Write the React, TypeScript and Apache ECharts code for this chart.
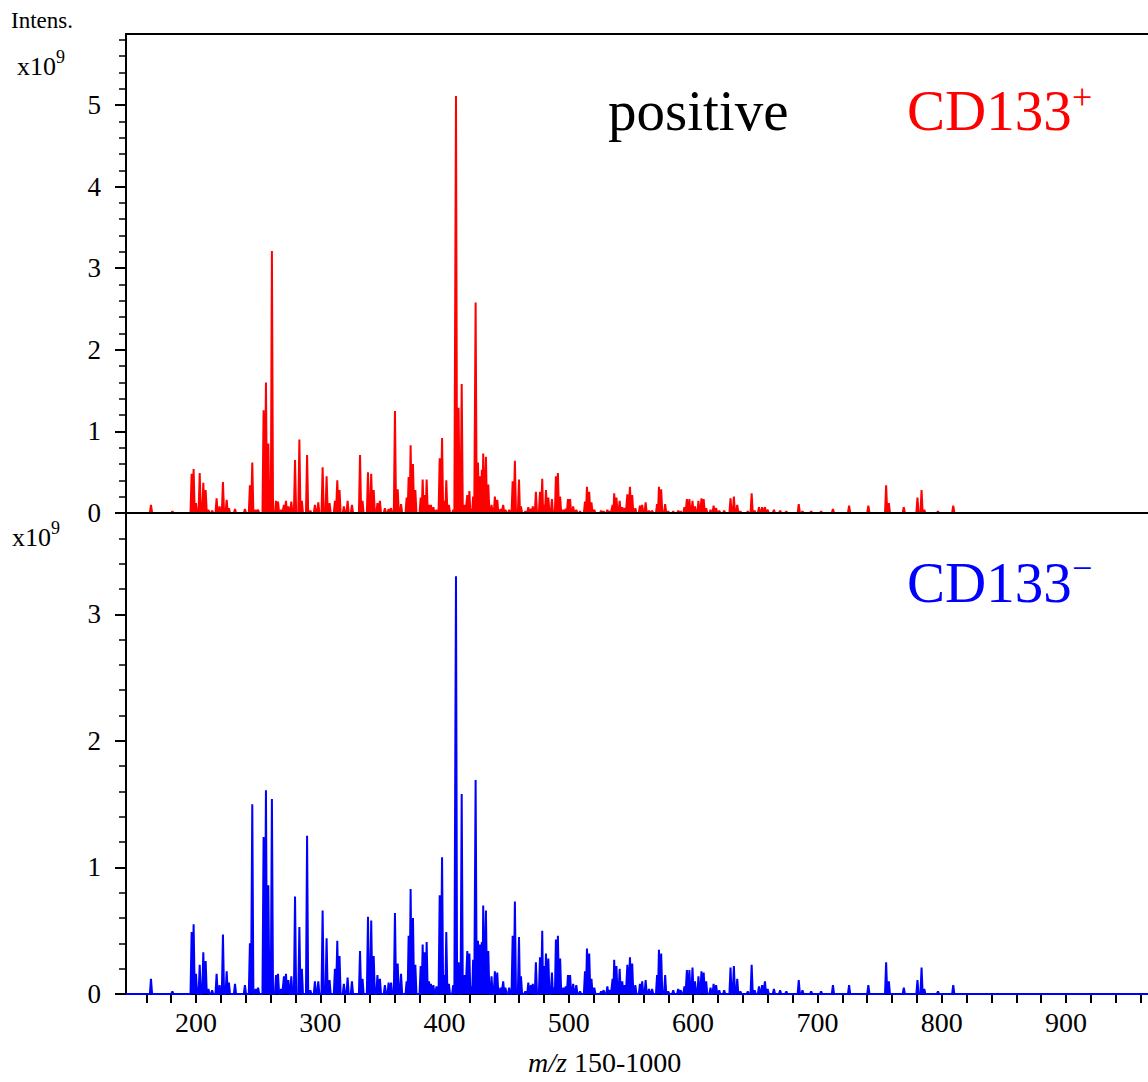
import React, { useEffect, useRef } from "react";
import * as echarts from "echarts";

const FONT = '"Liberation Serif", "Times New Roman", "DejaVu Serif", serif';

// m/z axis range shown
const X_MIN = 143.7;
const X_MAX = 966;
const TOP_Y_MAX = 5.87;
const BOTTOM_Y_MAX = 3.8;

// peak m/z positions (shared by both spectra)
const peakMz = [
  163.8, 181, 196.5, 198.1, 200, 203, 205.9, 207.8, 210, 213,
  216.6, 219, 221.7, 224.7, 226.5, 231.4, 239.4, 243.4, 245.3, 248,
  250, 254.4, 256.3, 258.2, 261.1, 264.4, 266, 268.5, 270.8, 272.4,
  274.3, 276.7, 279.7, 283.2, 285.2, 289.4, 292, 295.7, 298.4, 301.9,
  305.1, 307.5, 311.8, 313.7, 315.5, 319, 322, 325.5, 332, 334,
  338.4, 341, 343, 346, 348, 352, 355, 357, 360.1, 362.3,
  365, 369.5, 371.1, 372.7, 374.6, 376.5, 380.8, 382.4, 384, 385.6,
  387.5, 389, 391, 393.5, 396.1, 398, 399.8, 401.4, 403.5, 407,
  409.2, 411.3, 413.8, 416, 418.3, 420, 421.5, 423, 425, 426.9,
  428.5, 430, 431.1, 433.3, 435.2, 437.8, 440.5, 442.4, 445, 447.2,
  449, 452, 454.8, 456.6, 459.9, 461.5, 465, 467.4, 469.5, 471,
  473.5, 476.8, 478.6, 480, 481.6, 483.5, 486.4, 488, 489.6, 491.2,
  493, 495.5, 497.5, 499.3, 501, 503.5, 506, 509, 513, 514.6,
  516.4, 518.2, 520.5, 526, 528, 531, 533, 535.2, 536.5, 538.3,
  540.9, 543, 545, 547.1, 549.2, 551, 553.5, 557.2, 559, 561.8,
  564.5, 567, 571, 572.5, 574.3, 577.5, 580, 584, 588, 590,
  593, 595, 597, 599.5, 601.5, 604.3, 606.7, 608.5, 610.5, 614,
  616.5, 618.5, 621, 625, 630.1, 632.8, 635.5, 638, 644, 647.1,
  649.5, 653, 655.5, 657.8, 660, 665, 670, 675, 685, 688,
  695, 703, 712.5, 725.5, 741, 755.3, 757.5, 769.5, 780.5, 783.8,
  786, 797, 809.3,
];

// CD133+ intensities (x10^9)
const posIntensity = [
  0.10, 0.02, 0.48, 0.54, 0.12, 0.49, 0.37, 0.28, 0.04, 0.03,
  0.18, 0.08, 0.38, 0.16, 0.06, 0.05, 0.05, 0.34, 0.62, 0.04,
  0.04, 1.26, 1.60, 0.85, 3.21, 0.15, 0.14, 0.04, 0.10, 0.15,
  0.08, 0.14, 0.65, 0.90, 0.15, 0.71, 0.03, 0.10, 0.13, 0.56,
  0.45, 0.12, 0.15, 0.40, 0.28, 0.08, 0.15, 0.10, 0.71, 0.15,
  0.50, 0.48, 0.28, 0.12, 0.15, 0.06, 0.05, 0.06, 1.25, 0.29,
  0.11, 0.19, 0.44, 0.83, 0.60, 0.28, 0.19, 0.41, 0.22, 0.41,
  0.10, 0.10, 0.07, 0.04, 0.67, 0.92, 0.15, 0.40, 0.10, 0.04,
  5.11, 1.29, 1.58, 0.10, 0.22, 0.27, 0.05, 0.20, 2.58, 0.62,
  0.45, 0.53, 0.73, 0.69, 0.35, 0.10, 0.20, 0.16, 0.05, 0.10,
  0.04, 0.04, 0.39, 0.64, 0.41, 0.08, 0.02, 0.07, 0.05, 0.08,
  0.26, 0.26, 0.42, 0.10, 0.28, 0.19, 0.17, 0.03, 0.45, 0.49,
  0.20, 0.04, 0.05, 0.17, 0.17, 0.08, 0.04, 0.02, 0.14, 0.32,
  0.26, 0.13, 0.04, 0.03, 0.02, 0.04, 0.02, 0.10, 0.24, 0.19,
  0.15, 0.07, 0.06, 0.23, 0.32, 0.22, 0.06, 0.09, 0.10, 0.13,
  0.03, 0.03, 0.11, 0.32, 0.29, 0.11, 0.02, 0.02, 0.03, 0.02,
  0.07, 0.17, 0.17, 0.15, 0.08, 0.15, 0.18, 0.17, 0.06, 0.04,
  0.09, 0.06, 0.03, 0.03, 0.18, 0.20, 0.10, 0.02, 0.02, 0.24,
  0.03, 0.07, 0.07, 0.07, 0.04, 0.04, 0.03, 0.02, 0.11, 0.02,
  0.02, 0.02, 0.05, 0.09, 0.09, 0.34, 0.12, 0.07, 0.19, 0.28,
  0.04, 0.02, 0.09,
];

// CD133- intensities (x10^9)
const negIntensity = [
  0.12, 0.02, 0.49, 0.55, 0.16, 0.23, 0.33, 0.26, 0.04, 0.03,
  0.16, 0.07, 0.47, 0.18, 0.09, 0.08, 0.07, 0.40, 1.50, 0.04,
  0.05, 1.24, 1.61, 0.86, 1.54, 0.15, 0.16, 0.04, 0.14, 0.16,
  0.11, 0.14, 0.77, 0.53, 0.20, 1.25, 0.03, 0.10, 0.10, 0.66,
  0.44, 0.11, 0.20, 0.42, 0.30, 0.08, 0.13, 0.10, 0.34, 0.12,
  0.61, 0.58, 0.30, 0.15, 0.12, 0.07, 0.09, 0.09, 0.64, 0.24,
  0.16, 0.10, 0.46, 0.83, 0.60, 0.23, 0.22, 0.39, 0.33, 0.41,
  0.10, 0.08, 0.07, 0.06, 0.78, 1.08, 0.15, 0.49, 0.08, 0.07,
  3.30, 0.25, 1.58, 0.15, 0.34, 0.32, 0.06, 0.27, 1.69, 0.42,
  0.39, 0.41, 0.70, 0.66, 0.34, 0.14, 0.18, 0.17, 0.05, 0.10,
  0.05, 0.05, 0.46, 0.73, 0.45, 0.14, 0.02, 0.09, 0.07, 0.08,
  0.25, 0.29, 0.50, 0.22, 0.32, 0.28, 0.17, 0.05, 0.43, 0.46,
  0.28, 0.05, 0.06, 0.15, 0.15, 0.08, 0.07, 0.02, 0.18, 0.36,
  0.32, 0.12, 0.05, 0.02, 0.03, 0.06, 0.03, 0.12, 0.27, 0.22,
  0.20, 0.10, 0.07, 0.23, 0.29, 0.24, 0.07, 0.08, 0.10, 0.11,
  0.04, 0.04, 0.15, 0.35, 0.32, 0.15, 0.02, 0.03, 0.04, 0.03,
  0.06, 0.19, 0.19, 0.21, 0.10, 0.14, 0.18, 0.17, 0.10, 0.05,
  0.08, 0.07, 0.03, 0.03, 0.21, 0.22, 0.12, 0.02, 0.02, 0.23,
  0.03, 0.06, 0.07, 0.10, 0.04, 0.04, 0.03, 0.02, 0.11, 0.03,
  0.02, 0.02, 0.07, 0.07, 0.07, 0.25, 0.10, 0.05, 0.11, 0.21,
  0.04, 0.02, 0.07,
];

// tick labels
const xLabelValues = [200, 300, 400, 500, 600, 700, 800, 900];
const topYLabelValues = [0, 1, 2, 3, 4, 5];
const bottomYLabelValues = [0, 1, 2, 3];

function steps(from: number, to: number, step: number): number[] {
  const out: number[] = [];
  for (let v = from; v <= to + 1e-9; v += step) out.push(Math.round(v * 100) / 100);
  return out;
}
const xTickValues = steps(160, 960, 20);
const topYMinorValues = steps(0, 5.8, 0.2);
const bottomYMinorValues = steps(0, 3.6, 0.2);

function buildProfile(mz: number[], inten: number[]): number[][] {
  const pts: number[][] = [[X_MIN, 0]];
  for (let i = 0; i < mz.length; i++) {
    const m = mz[i];
    const gl = i > 0 ? (m - mz[i - 1]) / 2 : 1;
    const gr = i < mz.length - 1 ? (mz[i + 1] - m) / 2 : 1;
    const hl = Math.min(0.9, gl);
    const hr = Math.min(0.9, gr);
    pts.push([m - hl, 0], [m, inten[i]], [m + hr, 0]);
  }
  pts.push([X_MAX, 0]);
  return pts;
}

const black = "#000";

function yAxisPair(gridIndex: number, max: number, labels: number[], minor: number[]) {
  return [
    {
      gridIndex,
      type: "value",
      min: 0,
      max,
      position: "left",
      axisLine: { show: true, lineStyle: { color: black, width: 2 } },
      axisTick: { show: true, customValues: labels, length: 11, lineStyle: { color: black, width: 2 } },
      axisLabel: { show: true, customValues: labels, margin: 25, fontSize: 27, fontFamily: FONT, color: black },
      splitLine: { show: false },
    },
    {
      gridIndex,
      type: "value",
      min: 0,
      max,
      position: "left",
      axisLine: { show: false },
      axisTick: { show: true, customValues: minor, length: 7, lineStyle: { color: black, width: 1.5 } },
      axisLabel: { show: false },
      splitLine: { show: false },
    },
  ];
}

export default function App() {
  const ref = useRef<HTMLDivElement>(null);
  useEffect(() => {
    if (!ref.current) return;
    const chart = echarts.init(ref.current, null, { renderer: "svg" });
    const txt = (text: string, x: number, y: number, size: number, color = black, extra: any = {}) => ({
      type: "text",
      x,
      y,
      silent: true,
      style: { text, fill: color, fontSize: size, fontFamily: FONT, textVerticalAlign: "middle", ...extra },
    });
    chart.setOption({
      animation: false,
      backgroundColor: "#fff",
      grid: [
        { left: 126, top: 34, right: 0, height: 479 },
        { left: 126, top: 513, right: 0, height: 481 },
      ],
      xAxis: [
        {
          gridIndex: 0, type: "value", min: X_MIN, max: X_MAX, position: "bottom", z: 5,
          axisLine: { show: true, onZero: false, lineStyle: { color: black, width: 2 } },
          axisTick: { show: false }, axisLabel: { show: false }, splitLine: { show: false },
        },
        {
          gridIndex: 0, type: "value", min: X_MIN, max: X_MAX, position: "top",
          axisLine: { show: true, onZero: false, lineStyle: { color: black, width: 2 } },
          axisTick: { show: false }, axisLabel: { show: false }, splitLine: { show: false },
        },
        {
          gridIndex: 1, type: "value", min: X_MIN, max: X_MAX, position: "bottom",
          axisLine: { show: true, onZero: false, lineStyle: { color: black, width: 2 } },
          axisTick: { show: true, customValues: xTickValues, length: 9, lineStyle: { color: black, width: 2 } },
          axisLabel: { show: true, customValues: xLabelValues, margin: 14, fontSize: 28, fontFamily: FONT, color: black },
          splitLine: { show: false },
        },
      ],
      yAxis: [
        ...yAxisPair(0, TOP_Y_MAX, topYLabelValues, topYMinorValues),
        ...yAxisPair(1, BOTTOM_Y_MAX, bottomYLabelValues, bottomYMinorValues),
      ],
      series: [
        {
          type: "line", xAxisIndex: 0, yAxisIndex: 0, data: buildProfile(peakMz, posIntensity),
          showSymbol: false, silent: true, z: 2,
          lineStyle: { color: "#ff0000", width: 2 },
          areaStyle: { color: "#ff0000", opacity: 1 },
        },
        {
          type: "line", xAxisIndex: 2, yAxisIndex: 2, data: buildProfile(peakMz, negIntensity),
          showSymbol: false, silent: true, z: 2,
          lineStyle: { color: "#0000ff", width: 2 },
          areaStyle: { color: "#0000ff", opacity: 1 },
        },
      ],
      graphic: [
        txt("Intens.", 11, 20, 23),
        txt("x10", 17, 66, 26),
        txt("9", 56, 57, 18),
        txt("x10", 12, 537, 26),
        txt("9", 51, 528, 18),
        txt("positive", 608, 110, 57),
        txt("CD133", 907, 110, 57, "#ff0000"),
        txt("+", 1072, 97, 36, "#ff0000"),
        txt("CD133", 907, 582, 57, "#0000ff"),
        txt("\u2212", 1072, 568, 36, "#0000ff"),
        {
          type: "text", x: 528, y: 1062, silent: true,
          style: {
            text: "{i|m/z} 150-1000",
            fill: black, fontSize: 28, fontFamily: FONT, textVerticalAlign: "middle",
            rich: { i: { fontStyle: "italic", fontSize: 28, fontFamily: FONT, fill: black } },
          },
        },
      ],
    });
    return () => chart.dispose();
  }, []);
  return <div ref={ref} style={{ position: "absolute", left: 0, top: 0, width: 1148, height: 1082 }} />;
}
